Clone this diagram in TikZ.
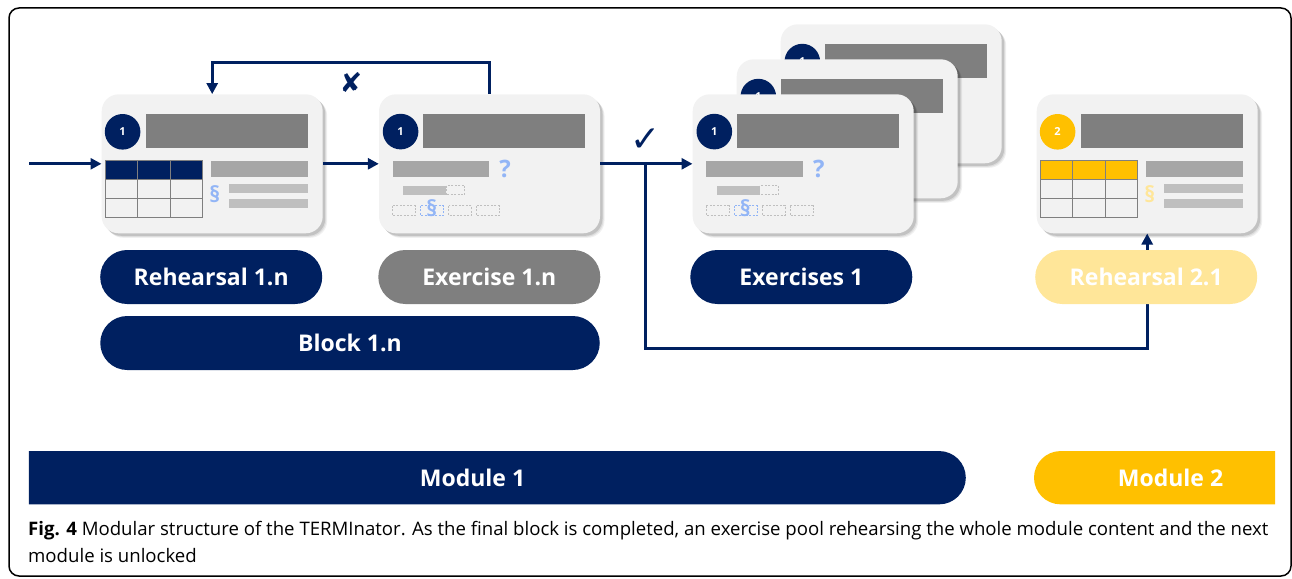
\documentclass[tikz,border=0pt]{standalone}
\usepackage{fontspec}
\setmainfont{Open Sans}
\newfontfamily\symfont{DejaVu Sans}
\usetikzlibrary{arrows.meta,shapes.misc,calc}
\definecolor{navy}{HTML}{002060}
\definecolor{hdgray}{HTML}{7F7F7F}
\definecolor{midgray}{HTML}{A6A6A6}
\definecolor{ltgray}{HTML}{BFBFBF}
\definecolor{cardgray}{HTML}{F2F2F2}
\definecolor{parablue}{HTML}{92B5F6}
\definecolor{gold}{HTML}{FFC000}
\definecolor{ltgold}{HTML}{FFE699}
\tikzset{
  card/.style={fill=cardgray, rounded corners=17pt, minimum width=221pt, minimum height=139pt, inner sep=0pt, draw=none,
    preaction={fill=black, opacity=.06, transform canvas={xshift=4.5pt,yshift=-4.5pt}},
    preaction={fill=black, opacity=.08, transform canvas={xshift=3.5pt,yshift=-3.5pt}},
    preaction={fill=black, opacity=.12, transform canvas={xshift=2.5pt,yshift=-2.5pt}}},
  numcirc/.style={circle, minimum size=35.6pt, inner sep=0pt, text=white, font=\fontsize{11}{11}\selectfont\bfseries},
  tabline/.style={draw=hdgray, line width=1pt},
  dbox/.style={draw=ltgray, line width=0.8pt, dash pattern=on 2pt off 1.5pt},
  pill/.style={rounded rectangle, minimum width=222pt, minimum height=54pt, inner sep=0pt, text=white, font=\fontsize{23}{26}\selectfont\bfseries},
  arr/.style={draw=navy, line width=3pt, -{Triangle[length=11pt,width=11pt]}},
  conn/.style={draw=navy, line width=3pt},
}
% rehearsal card: name, centre, circle colour, head-row colour, para colour, number
\newcommand\rehcard[6]{%
  \node[card] (#1) at (#2) {};
  \begin{scope}[shift={(#1.north west)}]
    \node[numcirc, fill=#3] (#1n) at (21.1,37.7) {#6};
    \fill[hdgray] (44.3,19.7) rectangle (206.6,53.4);
    \fill[#4] (4,66.4) rectangle (101,85.3);
    \draw[tabline] (4,66.4) rectangle (101,123);
    \draw[tabline] (36.3,66.4) -- (36.3,123) (68.7,66.4) -- (68.7,123)
                   (4,85.3) -- (101,85.3) (4,104.1) -- (101,104.1);
    \fill[midgray] (109.3,66.7) rectangle (206.6,82.4);
    \node[text=#5, font=\fontsize{22}{22}\selectfont\bfseries, inner sep=0pt] (#1p) at (113.3,100.5) {§};
    \fill[ltgray] (127.3,89.7) rectangle (206.6,98.4);
    \fill[ltgray] (127.3,104.7) rectangle (206.6,113.4);
  \end{scope}}
% exercise card: name, centre
\newcommand\exccard[2]{%
  \node[card] (#1) at (#2) {};
  \begin{scope}[shift={(#1.north west)}]
    \node[numcirc, fill=navy] (#1n) at (21.8,37.5) {1};
    \fill[hdgray] (44.5,19.7) rectangle (206.6,53.4);
    \fill[midgray] (13.7,66.6) rectangle (110.5,82.4);
    \node[text=parablue, font=\fontsize{24}{24}\selectfont\bfseries, inner sep=0pt] (#1q) at (126.3,74.5) {?};
    \fill[ltgray] (24.5,91.5) rectangle (67.2,100.7);
    \draw[dbox] (67.2,91.5) rectangle (86,100.7);
    \draw[dbox] (13.7,111.7) rectangle (36.5,121.4);
    \draw[dbox, draw=parablue] (41.7,111.7) rectangle (64.8,121.4);
    \draw[dbox] (69.9,111.7) rectangle (92.5,121.4);
    \draw[dbox] (97.5,111.7) rectangle (120.5,121.4);
    \node[text=parablue, font=\fontsize{22}{22}\selectfont\bfseries, inner sep=0pt] (#1p) at (52.8,114.5) {§};
  \end{scope}}
\begin{document}
\begin{tikzpicture}[x=1pt, y=-1pt]
\useasboundingbox (0,0) rectangle (1292,578);
\draw[line width=1.5pt, rounded corners=10pt] (9,8) rectangle (1291,576);

% cards
\rehcard{c1}{212.2,163.8}{navy}{navy}{parablue}{1}
\exccard{c2}{489.5,163.8}
\exccard{c3c}{891.2,93.8}
\exccard{c3b}{847.2,128.8}
\exccard{c3}{803.2,163.8}
\rehcard{c4}{1147.2,163.8}{gold}{gold}{ltgold}{2}

% connectors
\coordinate (in) at (29,163.8);
\draw[arr] (in) -- (c1.west);
\draw[arr] (c1.east) -- (c2.west);
\draw[arr] (c2.north) -- ++(0,-31.5) -| (c1.north);
\node[text=navy, font=\symfont\fontsize{27}{27}\selectfont] (fail) at (351,82.5) {✘};
\draw[arr] (c2.east) -- (c3.west);
\coordinate (j) at (645,163.8);
\coordinate (jb) at (645,348.3);
\draw[arr] (j) -- (jb) -| (c4.south);
\node[text=navy, font=\symfont\fontsize{36}{36}\selectfont] (pass) at (646,140) {✓};

% pills
\node[pill, fill=navy] (p1) at (211.2,277) {Rehearsal 1.n};
\node[pill, fill=hdgray] (p2) at (489.3,277) {Exercise 1.n};
\node[pill, fill=navy, minimum width=499.5pt] (blk) at (350,343) {Block 1.n};
\node[pill, fill=navy] (p3) at (801.3,277) {Exercises 1};
\node[pill, fill=ltgold] (p4) at (1146.2,277) {Rehearsal 2.1};

% modules
\node[rounded rectangle, rounded rectangle west arc=none, fill=navy, minimum width=937pt, minimum height=53.3pt, inner sep=0pt] (m1) at (497.3,477.7) {};
\node[text=white, font=\fontsize{23}{26}\selectfont\bfseries] (m1t) at (472.5,477.7) {Module 1};
\node[rounded rectangle, rounded rectangle east arc=none, fill=gold, minimum width=241pt, minimum height=53.3pt, inner sep=0pt] (m2) at (1154.5,477.7) {};
\node[text=white, font=\fontsize{23}{26}\selectfont\bfseries] (m2t) at (1170.5,477.7) {Module 2};

% caption
\node[anchor=north west, align=left, inner sep=0pt, font=\fontsize{18.6}{27}\selectfont] (cap) at (28,521)
  {\textbf{Fig. 4} Modular structure of the TERMInator. As the final block is completed, an exercise pool rehearsing the whole module content and the next\\
   module is unlocked};
\end{tikzpicture}
\end{document}
